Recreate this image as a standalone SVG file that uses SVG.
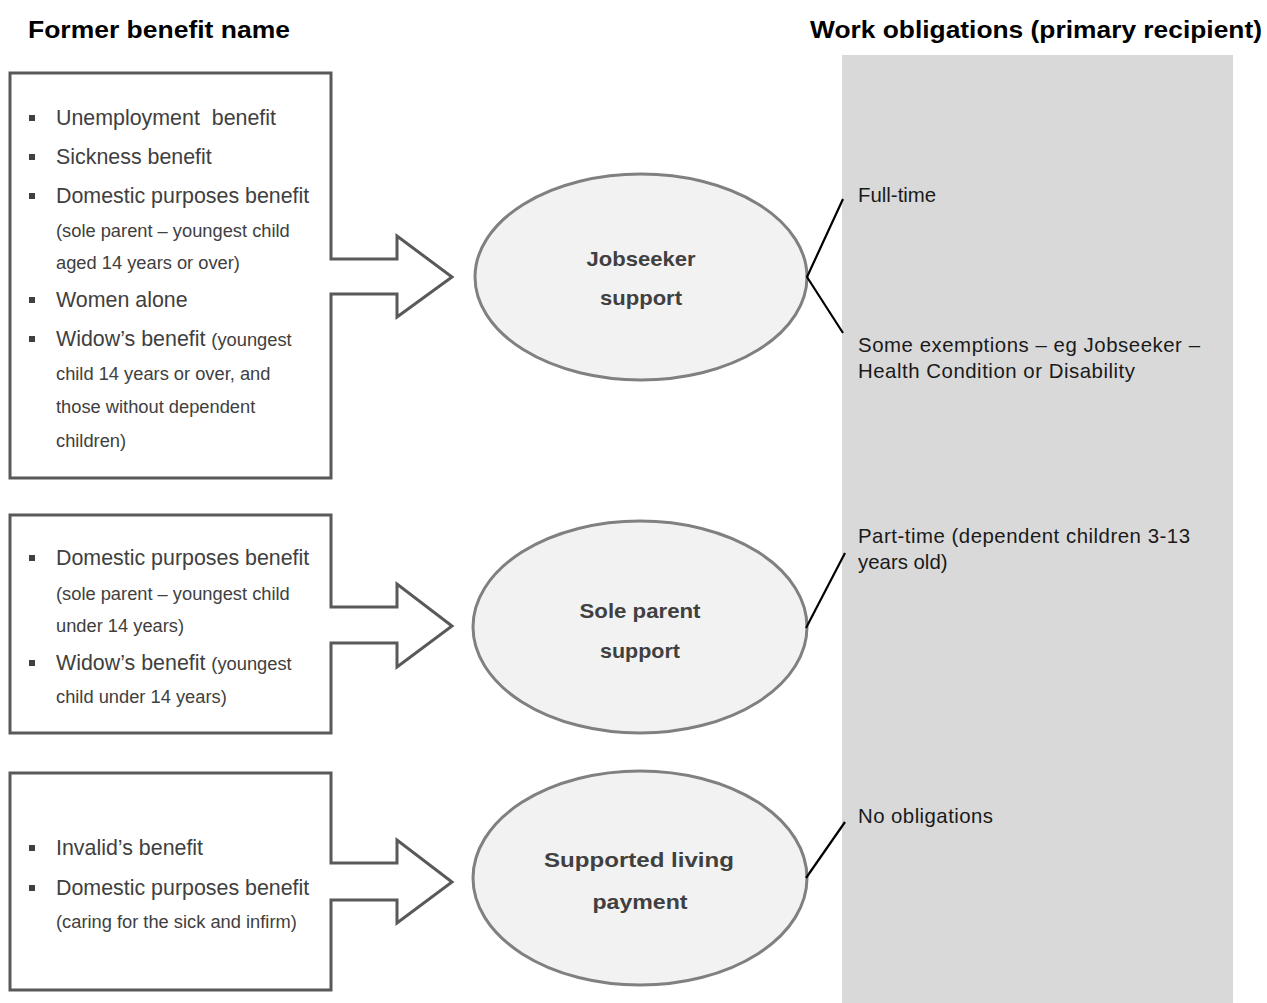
<svg xmlns="http://www.w3.org/2000/svg" width="1267" height="1003" viewBox="0 0 1267 1003">
<style>
.hdr{font-family:"Liberation Sans",Arial,sans-serif;font-weight:bold;font-size:23px;fill:#000}
.box{fill:#fff;stroke:#595959;stroke-width:3;stroke-linejoin:miter}
.it{font-family:"Liberation Sans",Arial,sans-serif;font-size:21.4px;fill:#404040;white-space:pre}
.sm{font-family:"Liberation Sans",Arial,sans-serif;font-size:18.3px;fill:#404040}
.bul{fill:#404040}
.ell{fill:#f2f2f2;stroke:#808080;stroke-width:3}
.lbl{font-family:"Liberation Sans",Arial,sans-serif;font-weight:bold;font-size:21px;fill:#404040;text-anchor:middle}
.ob{font-family:"Liberation Sans",Arial,sans-serif;font-size:20.4px;fill:#1a1a1a}
.con{stroke:#000;stroke-width:2.2;fill:none}
</style>
<rect width="1267" height="1003" fill="#fff"/>
<rect id="obligations-panel" x="842" y="55" width="391" height="948" fill="#d9d9d9"/>
<text class="hdr" x="28" y="38" textLength="262" lengthAdjust="spacingAndGlyphs">Former benefit name</text>
<text class="hdr" x="810" y="38" textLength="452" lengthAdjust="spacingAndGlyphs">Work obligations (primary recipient)</text>

<g id="former-1">
<path class="box" d="M10,73 H331 V259 H397 V236 L452,277 L397,317 V294 H331 V478 H10 Z"/>
<rect class="bul" x="29" y="115" width="6" height="6"/>
<text class="it" x="56" y="125" xml:space="preserve">Unemployment  benefit</text>
<rect class="bul" x="29" y="154" width="6" height="6"/>
<text class="it" x="56" y="164">Sickness benefit</text>
<rect class="bul" x="29" y="193" width="6" height="6"/>
<text class="it" x="56" y="203">Domestic purposes benefit</text>
<text class="sm" x="56" y="237">(sole parent – youngest child</text>
<text class="sm" x="56" y="269">aged 14 years or over)</text>
<rect class="bul" x="29" y="297" width="6" height="6"/>
<text class="it" x="56" y="307">Women alone</text>
<rect class="bul" x="29" y="336" width="6" height="6"/>
<text class="it" x="56" y="346">Widow’s benefit <tspan class="sm">(youngest</tspan></text>
<text class="sm" x="56" y="380">child 14 years or over, and</text>
<text class="sm" x="56" y="413">those without dependent</text>
<text class="sm" x="56" y="447">children)</text>
</g>

<g id="former-2">
<path class="box" d="M10,515 H331 V607 H397 V584 L452,626 L397,667 V643 H331 V733 H10 Z"/>
<rect class="bul" x="29" y="555" width="6" height="6"/>
<text class="it" x="56" y="565">Domestic purposes benefit</text>
<text class="sm" x="56" y="600">(sole parent – youngest child</text>
<text class="sm" x="56" y="632">under 14 years)</text>
<rect class="bul" x="29" y="660" width="6" height="6"/>
<text class="it" x="56" y="670">Widow’s benefit <tspan class="sm">(youngest</tspan></text>
<text class="sm" x="56" y="703">child under 14 years)</text>
</g>

<g id="former-3">
<path class="box" d="M10,773 H331 V863 H397 V840 L452,882 L397,923 V900 H331 V990 H10 Z"/>
<rect class="bul" x="29" y="845" width="6" height="6"/>
<text class="it" x="56" y="855">Invalid’s benefit</text>
<rect class="bul" x="29" y="885" width="6" height="6"/>
<text class="it" x="56" y="895">Domestic purposes benefit</text>
<text class="sm" x="56" y="928">(caring for the sick and infirm)</text>
</g>

<g id="jobseeker">
<ellipse class="ell" cx="641" cy="277" rx="166" ry="103"/>
<text class="lbl" x="641" y="266" textLength="109" lengthAdjust="spacingAndGlyphs">Jobseeker</text>
<text class="lbl" x="641" y="305" textLength="82" lengthAdjust="spacingAndGlyphs">support</text>
</g>

<g id="sole-parent">
<ellipse class="ell" cx="640" cy="627" rx="167" ry="106"/>
<text class="lbl" x="640" y="618" textLength="121" lengthAdjust="spacingAndGlyphs">Sole parent</text>
<text class="lbl" x="640" y="658" textLength="80" lengthAdjust="spacingAndGlyphs">support</text>
</g>

<g id="supported-living">
<ellipse class="ell" cx="640" cy="878" rx="167" ry="107"/>
<text class="lbl" x="639" y="867" textLength="190" lengthAdjust="spacingAndGlyphs">Supported living</text>
<text class="lbl" x="640" y="909" textLength="95" lengthAdjust="spacingAndGlyphs">payment</text>
</g>

<g id="obligation-texts">
<text class="ob" x="858" y="202">Full-time</text>
<text class="ob" x="858" y="352" textLength="342" lengthAdjust="spacing">Some exemptions – eg Jobseeker –</text>
<text class="ob" x="858" y="378" textLength="277" lengthAdjust="spacing">Health Condition or Disability</text>
<text class="ob" x="858" y="543" textLength="332" lengthAdjust="spacing">Part-time (dependent children 3-13</text>
<text class="ob" x="858" y="569">years old)</text>
<text class="ob" x="858" y="823" textLength="135" lengthAdjust="spacing">No obligations</text>
</g>

<g id="connectors">
<polyline class="con" points="843,199 807,277 843,333"/>
<line class="con" x1="845" y1="553" x2="806" y2="628"/>
<line class="con" x1="845" y1="822" x2="806" y2="878"/>
</g>
</svg>
